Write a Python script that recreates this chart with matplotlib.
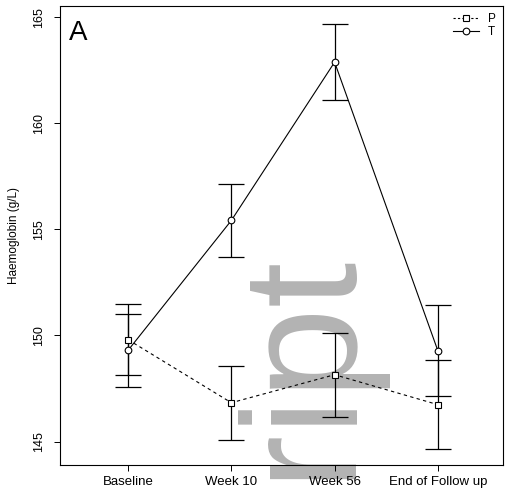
import matplotlib.pyplot as plt
from matplotlib.lines import Line2D

plt.rcParams['font.family'] = ['Liberation Sans', 'DejaVu Sans']

visits = ["Baseline", "Week 10", "Week 56", "End of Follow up"]
x = [1, 2, 3, 4]

p_mean = [149.8, 146.83, 148.15, 146.74]
p_err = [1.68, 1.75, 1.98, 2.08]
t_mean = [149.3, 155.42, 162.88, 149.28]
t_err = [1.73, 1.74, 1.8, 2.14]

fig = plt.figure(figsize=(5.08, 4.93), dpi=100)
ax = fig.add_axes([0.118, 0.057, 0.872, 0.931])

# error bars first, then the lines with open markers
ax.errorbar(x, p_mean, yerr=p_err, fmt='none', ecolor='black', elinewidth=0.9,
            capsize=9.5, capthick=0.9, zorder=2)
ax.errorbar(x, t_mean, yerr=t_err, fmt='none', ecolor='black', elinewidth=0.9,
            capsize=9.5, capthick=0.9, zorder=2)
ax.plot(x, p_mean, ls=(0, (3, 3)), color='black', lw=0.8, marker='s', ms=4.3,
        mfc='white', mec='black', mew=0.8, zorder=3)
ax.plot(x, t_mean, ls='-', color='black', lw=0.8, marker='o', ms=4.8,
        mfc='white', mec='black', mew=0.8, zorder=3)

ax.set_xlim(0.34, 4.63)
ax.set_ylim(143.9, 165.53)
ax.set_xticks(x)
ax.set_xticklabels(visits, fontsize=9.5)
ax.set_yticks([145, 150, 155, 160, 165])
ax.set_yticklabels(['145', '150', '155', '160', '165'], fontsize=9, rotation=90, va='center')
ax.tick_params(axis='y', length=4, width=0.7, pad=7)
ax.tick_params(axis='x', length=4, width=0.7, pad=4)
ax.set_ylabel("Haemoglobin (g/L)", fontsize=8.5, labelpad=9)
for s in ax.spines.values():
    s.set_linewidth(0.8)
ax.spines['left'].set_linestyle((0, (5, 1)))
ax.spines['bottom'].set_linestyle((0, (5, 1)))

ax.text(0.02, 0.97, "A", transform=ax.transAxes, fontsize=20, ha='left', va='top')

handles = [
    Line2D([], [], ls=(0, (2, 2)), color='black', lw=0.8, marker='s', ms=4.3, mfc='white', mew=0.8),
    Line2D([], [], ls='-', color='black', lw=0.8, marker='o', ms=4.8, mfc='white', mew=0.8),
]
ax.legend(handles, ['P', 'T'], loc='upper right', frameon=False, fontsize=8.5,
          handlelength=2.2, borderaxespad=0.2, labelspacing=0.1, handletextpad=0.8)

# manuscript watermark
ax.text(352 / 508, (493 - 256) / 493, "script", transform=fig.transFigure, rotation=90,
        rotation_mode='anchor', ha='right', va='baseline', fontsize=118,
        color='#b3b3b3', clip_on=False, zorder=1.5)

fig.savefig("out.png", dpi=100)
